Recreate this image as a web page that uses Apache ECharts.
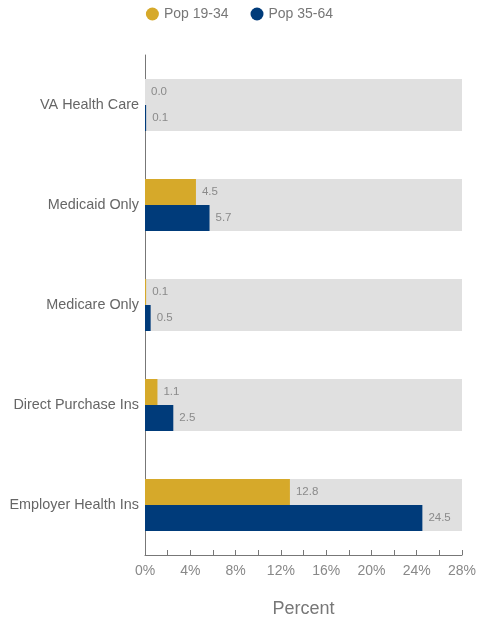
<!DOCTYPE html>
<html><head><meta charset="utf-8">
<script src="https://cdn.jsdelivr.net/npm/echarts@6/dist/echarts.min.js"></script>
<style>html,body{margin:0;padding:0;background:#fff}#c{width:479px;height:621px}</style>
</head><body><div id="c"></div>
<script>
const categories = ['Employer Health Ins', 'Direct Purchase Ins', 'Medicare Only', 'Medicaid Only', 'VA Health Care'];
const pop1934 = [12.8, 1.1, 0.1, 4.5, 0.0];
const pop3564 = [24.5, 2.5, 0.5, 5.7, 0.1];
const seriesNames = ['Pop 19-34', 'Pop 35-64'];
const colors = ['#D6A92A', '#003B7A'];

const chart = echarts.init(document.getElementById('c'), null, {renderer: 'canvas'});
const label = {show: true, position: 'right', distance: 6, color: '#8a8a8a', fontSize: 11.5, fontFamily: 'Arial, Liberation Sans, sans-serif', formatter: p => p.value.toFixed(1)};
chart.setOption({
  animation: false,
  color: colors,
  textStyle: {fontFamily: 'Arial, Liberation Sans, sans-serif'},
  legend: {top: 2, left: 'center', icon: 'circle', itemWidth: 13, itemHeight: 13, itemGap: 22,
    textStyle: {color: '#777', fontSize: 14}, data: seriesNames},
  grid: {left: 145, right: 17, top: 55, bottom: 66, containLabel: false, outerBoundsMode: 'none'},
  xAxis: {type: 'value', min: 0, max: 28, interval: 4,
    name: 'Percent', nameLocation: 'middle', nameGap: 45, nameTextStyle: {color: '#777', fontSize: 18},
    axisLine: {show: true, lineStyle: {color: '#777'}},
    axisTick: {show: true, inside: true, length: 5, lineStyle: {color: '#777'}},
    minorTick: {show: true, splitNumber: 2, length: 5, lineStyle: {color: '#777'}},
    splitLine: {show: false},
    axisLabel: {color: '#888', fontSize: 14, margin: 9, formatter: v => v + '%'}},
  yAxis: {type: 'category', data: categories,
    axisLine: {show: true, lineStyle: {color: '#777'}},
    axisTick: {show: false},
    axisLabel: {color: '#666', fontSize: 14.4, margin: 6}},
  series: [
    {name: seriesNames[0], type: 'bar', data: pop1934, barGap: '0%', barWidth: 26,
     showBackground: true, backgroundStyle: {color: '#e0e0e0'}, label: label},
    {name: seriesNames[1], type: 'bar', data: pop3564, barGap: '0%', barWidth: 26,
     showBackground: true, backgroundStyle: {color: '#e0e0e0'}, label: label}
  ]
});
</script></body></html>
